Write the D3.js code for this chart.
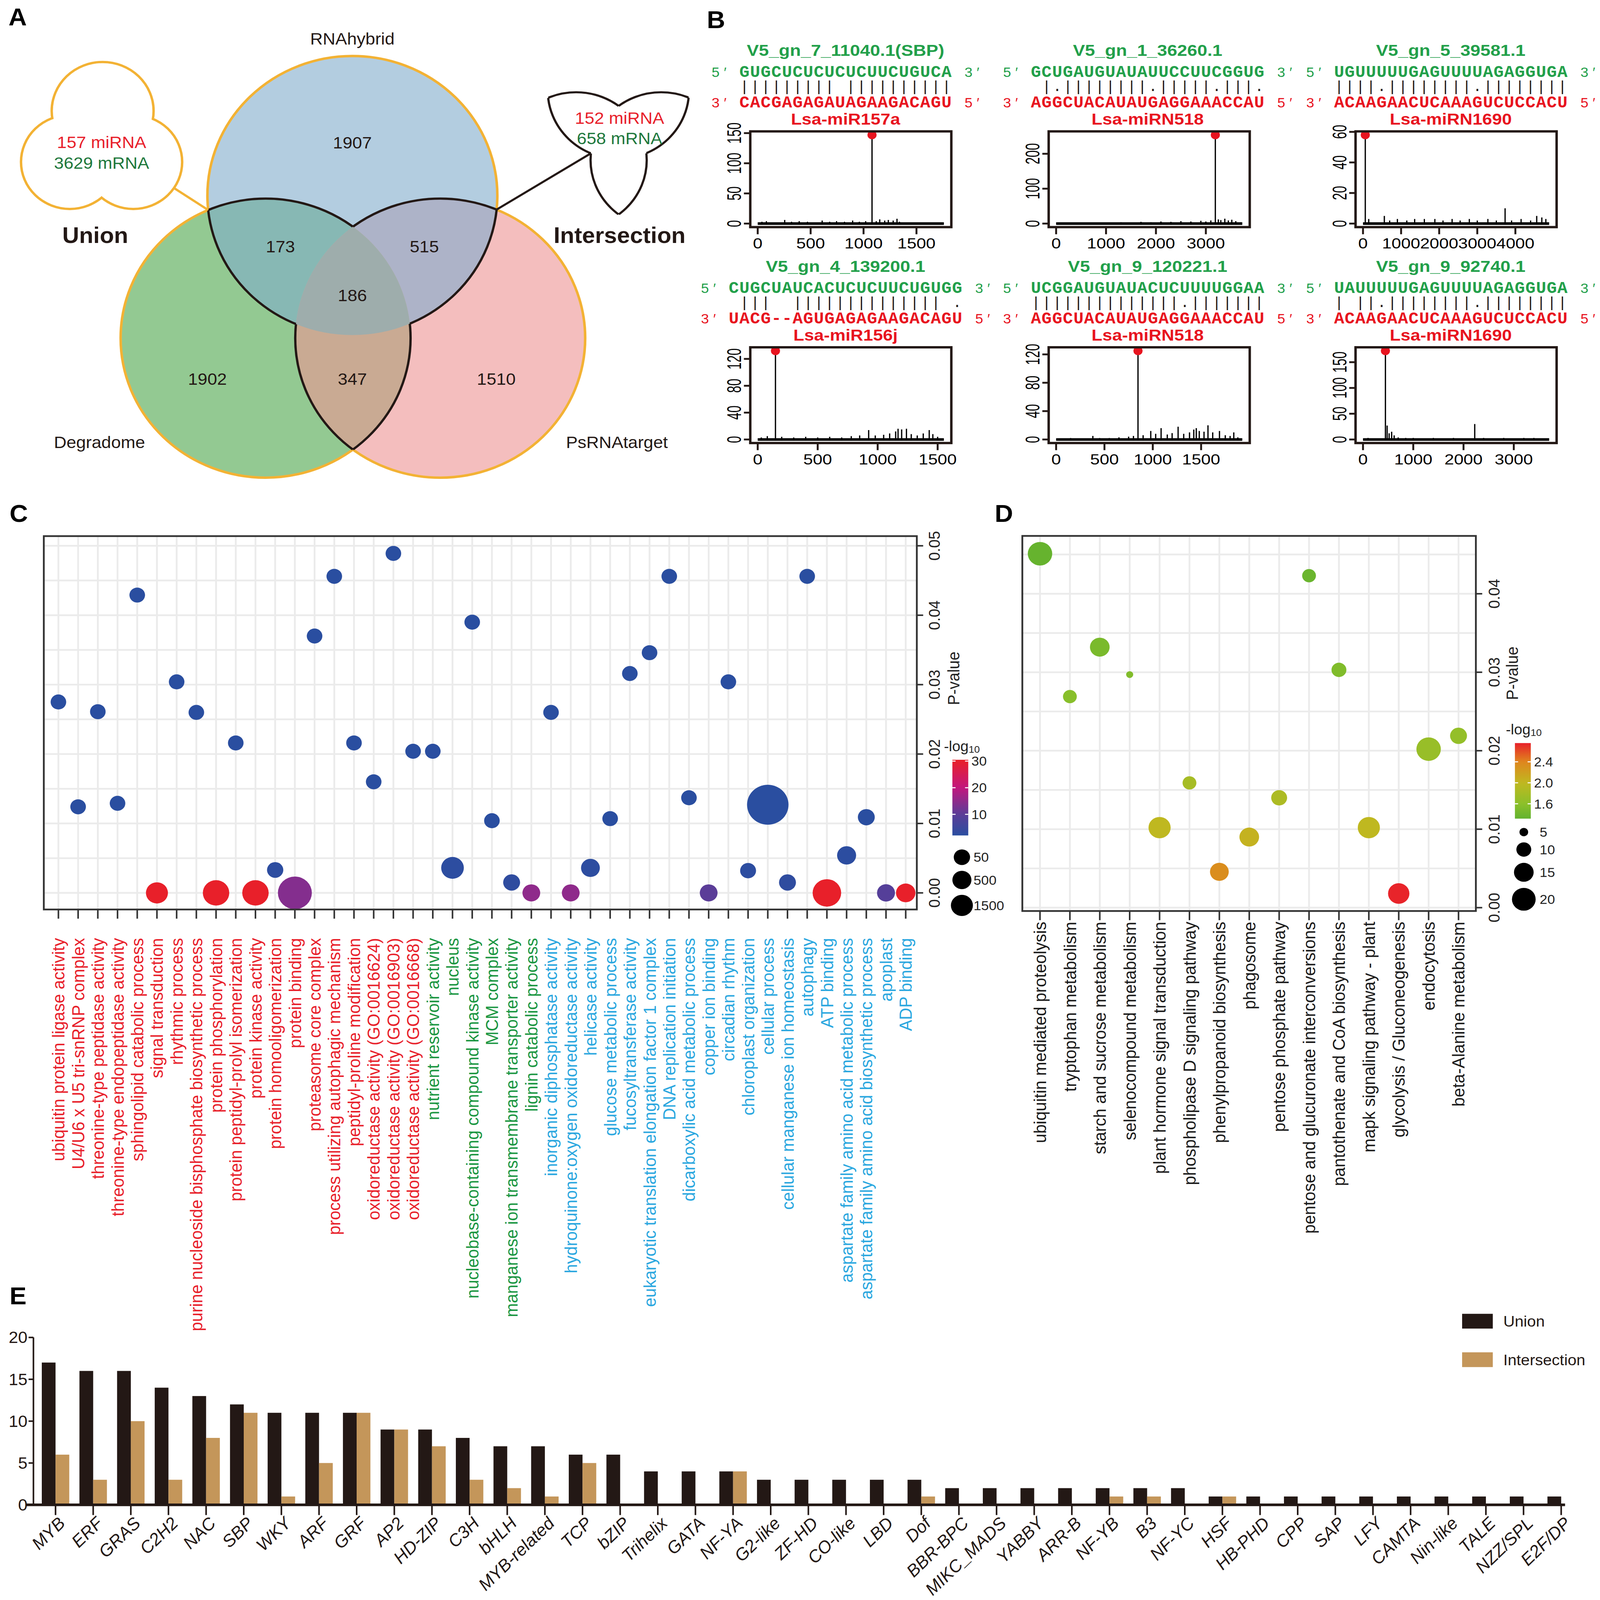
<!DOCTYPE html>
<html>
<head>
<meta charset="utf-8">
<title>miRNA targets</title>
<script src="https://cdn.jsdelivr.net/npm/d3@7"></script>
<style>
  html, body { margin: 0; padding: 0; background: #fff; overflow: hidden; }
  svg { display: block; width: 100vw; height: 100vh; }
</style>
</head>
<body>
<div id="fig"></div>
<script>
// ====================== data ======================
// A: Venn (H = RNAhybrid, D = Degradome, P = PsRNAtarget)
const vennSets = ["RNAhybrid", "Degradome", "PsRNAtarget"];
const vennRegions = ["H", "D", "P", "HD", "HP", "DP", "HDP"];
const vennCounts = [1907, 1902, 1510, 173, 515, 347, 186];
const unionText = ["157 miRNA", "3629 mRNA"];
const interText = ["152 miRNA", "658 mRNA"];

// B: degradome target plots
const bTitles = ["V5_gn_7_11040.1(SBP)", "V5_gn_1_36260.1", "V5_gn_5_39581.1",
                 "V5_gn_4_139200.1", "V5_gn_9_120221.1", "V5_gn_9_92740.1"];
const bMirnas = ["Lsa-miR157a", "Lsa-miRN518", "Lsa-miRN1690", "Lsa-miR156j", "Lsa-miRN518", "Lsa-miRN1690"];
const bTargetSeq = ["GUGCUCUCUCUCUUCUGUCA", "GCUGAUGUAUAUUCCUUCGGUG", "UGUUUUUGAGUUUUAGAGGUGA",
                    "CUGCUAUCACUCUCUUCUGUGG", "UCGGAUGUAUACUCUUUUGGAA", "UAUUUUUGAGUUUUAGAGGUGA"];
const bPairing = ["||||||||| ||||||||||", " |.||||||||.|||||.|||.", "||||.||||||||.||||||||",
                  " |||  |||||||||||||| .", "||||||||||||||.|||||||", "| ||.||||||||.||||||||"];
const bMirnaSeq = ["CACGAGAGAUAGAAGACAGU", "AGGCUACAUAUGAGGAAACCAU", "ACAAGAACUCAAAGUCUCCACU",
                   "UACG--AGUGAGAGAAGACAGU", "AGGCUACAUAUGAGGAAACCAU", "ACAAGAACUCAAAGUCUCCACU"];
const bLength = [1759, 3730, 4887, 1552, 1926, 3704];
const bPeakPos = [1080, 3190, 60, 148, 847, 446];
const bPeakVal = [147, 254, 58, 132, 125, 172];
const bYTicks = [[0, 50, 100, 150], [0, 100, 200], [0, 20, 40, 60], [0, 40, 80, 120], [0, 40, 80, 120], [0, 50, 100, 150]];
const bXTicks = [[0, 500, 1000, 1500], [0, 1000, 2000, 3000], [0, 1000, 2000, 3000, 4000],
                 [0, 500, 1000, 1500], [0, 500, 1000, 1500], [0, 1000, 2000, 3000]];
const bSpikes = [
  [[40,3],[82,4],[150,2],[255,6],[320,3],[392,4],[470,3],[530,2],[609,5],[680,3],[745,4],[820,3],[897,5],[960,3],[1020,4],[1120,4],[1153,7],[1200,5],[1234,6],[1280,5],[1316,8],[1340,3],[1400,2],[1500,1],[1600,1],[1700,1]],
  [[100,2],[300,3],[500,2],[700,3],[900,2],[1100,3],[1300,4],[1500,3],[1700,5],[1900,4],[2100,6],[2300,5],[2500,7],[2700,6],[2900,8],[3000,6],[3100,9],[3250,12],[3300,10],[3380,14],[3450,9],[3520,11],[3600,7],[3700,4]],
  [[150,3],[560,5],[700,2],[903,3],[1150,2],[1356,3],[1611,3],[1886,3],[2100,2],[2339,3],[2550,2],[2791,3],[3000,2],[3278,3],[3500,2],[3730,10],[3900,2],[4150,3],[4400,2],[4560,5],[4694,4],[4800,3]],
  [[30,3],[80,5],[200,4],[300,3],[400,4],[500,3],[600,4],[700,3],[780,5],[850,6],[925,14],[980,6],[1050,7],[1100,9],[1150,12],[1170,16],[1200,15],[1240,16],[1280,8],[1330,6],[1380,9],[1430,14],[1460,8],[1500,4]],
  [[50,1],[150,2],[250,1],[380,5],[450,2],[550,2],[650,3],[750,4],[800,5],[900,6],[979,12],[1030,8],[1086,16],[1150,7],[1200,9],[1262,18],[1320,8],[1380,10],[1424,14],[1450,16],[1481,12],[1530,11],[1571,20],[1620,10],[1690,12],[1750,6],[1800,5],[1838,10],[1880,3]],
  [[100,3],[250,2],[480,27],[520,12],[570,15],[620,8],[700,4],[850,3],[1000,3],[1200,2],[1400,3],[1600,2],[1800,3],[2000,2],[2223,30],[2400,3],[2600,2],[2800,3],[3000,2],[3200,3],[3400,3],[3600,2]]
];

// C: GO enrichment
const goTerms = [
  "ubiquitin protein ligase activity", "U4/U6 x U5 tri-snRNP complex", "threonine-type peptidase activity",
  "threonine-type endopeptidase activity", "sphingolipid catabolic process", "signal transduction",
  "rhythmic process", "purine nucleoside bisphosphate biosynthetic process", "protein phosphorylation",
  "protein peptidyl-prolyl isomerization", "protein kinase activity", "protein homooligomerization",
  "protein binding", "proteasome core complex", "process utilizing autophagic mechanism",
  "peptidyl-proline modification", "oxidoreductase activity (GO:0016624)", "oxidoreductase activity (GO:0016903)",
  "oxidoreductase activity (GO:0016668)", "nutrient reservoir activity", "nucleus",
  "nucleobase-containing compound kinase activity", "MCM complex", "manganese ion transmembrane transporter activity",
  "lignin catabolic process", "inorganic diphosphatase activity", "hydroquinone:oxygen oxidoreductase activity",
  "helicase activity", "glucose metabolic process", "fucosyltransferase activity",
  "eukaryotic translation elongation factor 1 complex", "DNA replication initiation", "dicarboxylic acid metabolic process",
  "copper ion binding", "circadian rhythm", "chloroplast organization", "cellular process",
  "cellular manganese ion homeostasis", "autophagy", "ATP binding",
  "aspartate family amino acid metabolic process", "aspartate family amino acid biosynthetic process", "apoplast", "ADP binding"
];
const goGroup = "RRRRRRRRRRRRRRRRRRRGGGGGGBBBBBBBBBBBBBBBBBBB".split("");
const goP = [0.0275, 0.0124, 0.0261, 0.0129, 0.0429, 1e-30, 0.0304, 0.026, 1e-30, 0.0216, 1e-30, 0.0033,
             1e-14, 0.037, 0.0456, 0.0216, 0.016, 0.0489, 0.0204, 0.0204, 0.0036, 0.039, 0.0104, 0.0015,
             1e-15, 0.026, 1e-15, 0.0036, 0.0107, 0.0316, 0.0346, 0.0456, 0.0137, 1e-10, 0.0304, 0.0032,
             0.0127, 0.0015, 0.0456, 1e-30, 0.0054, 0.0109, 1e-9, 1e-30];
const goCount = [10, 10, 10, 10, 10, 1500, 10, 10, 4000, 10, 4000, 50, 11000, 10, 10, 10, 10, 10, 10, 10,
                 1800, 10, 10, 110, 230, 10, 230, 450, 10, 10, 10, 10, 10, 230, 10, 25, 21500, 110, 10,
                 5600, 500, 110, 270, 600];
const goColorTicks = [10, 20, 30];
const goSizeKeys = [50, 500, 1500];

// D: KEGG enrichment
const keggTerms = ["ubiquitin mediated proteolysis", "tryptophan metabolism", "starch and sucrose metabolism",
  "selenocompound metabolism", "plant hormone signal transduction", "phospholipase D signaling pathway",
  "phenylpropanoid biosynthesis", "phagosome", "pentose phosphate pathway", "pentose and glucuronate interconversions",
  "pantothenate and CoA biosynthesis", "mapk signaling pathway - plant", "glycolysis / Gluconeogenesis",
  "endocytosis", "beta-Alanine metabolism"];
const keggP = [0.0451, 0.0269, 0.0332, 0.0297, 0.0102, 0.0159, 0.00457, 0.009, 0.014, 0.0423, 0.0303, 0.0102, 0.0018, 0.0202, 0.0219];
const keggCount = [21, 9, 15, 4, 18, 9, 14, 15, 11, 9, 10, 18, 17, 21, 12];
const keggColorTicks = [1.6, 2.0, 2.4];
const keggSizeKeys = [5, 10, 15, 20];

// E: TF families
const tfFamilies = ["MYB", "ERF", "GRAS", "C2H2", "NAC", "SBP", "WKY", "ARF", "GRF", "AP2", "HD-ZIP", "C3H", "bHLH",
  "MYB-related", "TCP", "bZIP", "Trihelix", "GATA", "NF-YA", "G2-like", "ZF-HD", "CO-like", "LBD", "Dof", "BBR-BPC",
  "MIKC_MADS", "YABBY", "ARR-B", "NF-YB", "B3", "NF-YC", "HSF", "HB-PHD", "CPP", "SAP", "LFY", "CAMTA", "Nin-like",
  "TALE", "NZZ/SPL", "E2F/DP"];
const tfUnion = [17, 16, 16, 14, 13, 12, 11, 11, 11, 9, 9, 8, 7, 7, 6, 6, 4, 4, 4, 3, 3, 3, 3, 3, 2, 2, 2, 2, 2, 2, 2,
  1, 1, 1, 1, 1, 1, 1, 1, 1, 1];
const tfInter = [6, 3, 10, 3, 8, 11, 1, 5, 11, 9, 7, 3, 2, 1, 5, 0, 0, 0, 4, 0, 0, 0, 0, 1, 0, 0, 0, 0, 1, 1, 0,
  1, 0, 0, 0, 0, 0, 0, 0, 0, 0];
const tfSeries = ["Union", "Intersection"];
const eYTicks = [0, 5, 10, 15, 20];

// ====================== setup ======================
const W = 1512, H = 1571;
const FONT = "'Liberation Sans', Arial, Helvetica, sans-serif";
const MONO = "'Liberation Mono', 'Courier New', monospace";
const INK = "#231815";
// the drawing is laid out on a 1512 x 1571 grid and stretched onto the window
const svg = d3.select("#fig").append("svg")
  .attr("viewBox", `0 0 ${W} ${H}`)
  .attr("preserveAspectRatio", "none")
  .attr("font-family", FONT);
svg.append("rect").attr("width", W).attr("height", H).attr("fill", "#fff");
const defs = svg.append("defs");

function panelLetter(t, x, y) {
  svg.append("text").attr("x", x).attr("y", y).attr("font-size", 24).attr("font-weight", "bold")
    .attr("fill", "#000").text(t);
}

// ====================== A ======================
panelLetter("A", 8, 25);
const gA = svg.append("g");
const vennR = 137;
const vennCircles = [
  { key: "H", cx: 333, cy: 192 },
  { key: "D", cx: 251, cy: 332 },
  { key: "P", cx: 416, cy: 332 }
];
const vennFill = { H: "#b3cde0", D: "#93c992", P: "#f4bebe", HD: "#87b8b4", HP: "#adb3c8", DP: "#c9aa93", HDP: "#9eadac" };
const vennLabelAt = { H: [333, 140], D: [196, 372], P: [469, 372], HD: [265, 242], HP: [401, 242], DP: [333, 372], HDP: [333, 290] };
const vennSetLabelAt = [[333, 38], [94, 434], [583, 434]];
const ORANGE = "#f3b234";

function circleCross(a, b) {
  const dx = b.cx - a.cx, dy = b.cy - a.cy, d = Math.hypot(dx, dy);
  const h = Math.sqrt(vennR * vennR - d * d / 4), mx = (a.cx + b.cx) / 2, my = (a.cy + b.cy) / 2;
  return [[mx - h * dy / d, my + h * dx / d], [mx + h * dy / d, my - h * dx / d]];
}

vennCircles.forEach(c => {
  defs.append("clipPath").attr("id", "clip-" + c.key)
    .append("circle").attr("cx", c.cx).attr("cy", c.cy).attr("r", vennR);
});
function addMask(id, bg) {
  const m = defs.append("mask").attr("id", id).attr("maskUnits", "userSpaceOnUse")
    .attr("x", -100).attr("y", -100).attr("width", 900).attr("height", 800);
  m.append("rect").attr("x", -100).attr("y", -100).attr("width", 900).attr("height", 800).attr("fill", bg);
  return m;
}
vennCircles.forEach((c, i) => {
  const others = vennCircles.filter((_, j) => j !== i);
  const mo = addMask("out-" + c.key, "#fff");
  others.forEach(o => mo.append("circle").attr("cx", o.cx).attr("cy", o.cy).attr("r", vennR).attr("fill", "#000"));
  const mp = addMask("pair-" + c.key, "#000");
  others.forEach(o => mp.append("circle").attr("cx", o.cx).attr("cy", o.cy).attr("r", vennR).attr("fill", "#fff"));
  mp.append("circle").attr("cx", others[1].cx).attr("cy", others[1].cy).attr("r", vennR)
    .attr("clip-path", `url(#clip-${others[0].key})`).attr("fill", "#000");
});

// region fills
vennCircles.forEach(c => gA.append("circle").attr("cx", c.cx).attr("cy", c.cy).attr("r", vennR).attr("fill", vennFill[c.key]));
[[0, 1], [0, 2], [1, 2]].forEach(([i, j]) => {
  const a = vennCircles[i], b = vennCircles[j];
  gA.append("circle").attr("cx", b.cx).attr("cy", b.cy).attr("r", vennR)
    .attr("clip-path", `url(#clip-${a.key})`).attr("fill", vennFill[a.key + b.key]);
});
gA.append("g").attr("clip-path", "url(#clip-H)")
  .append("circle").attr("cx", vennCircles[1].cx).attr("cy", vennCircles[1].cy).attr("r", vennR)
  .attr("clip-path", "url(#clip-P)").attr("fill", vennFill.HDP);

// outlines: orange union edge, black edge of the shared area
vennCircles.forEach(c => gA.append("circle").attr("cx", c.cx).attr("cy", c.cy).attr("r", vennR)
  .attr("fill", "none").attr("stroke", ORANGE).attr("stroke-width", 2.4).attr("mask", `url(#out-${c.key})`));
vennCircles.forEach(c => gA.append("circle").attr("cx", c.cx).attr("cy", c.cy).attr("r", vennR)
  .attr("fill", "none").attr("stroke", INK).attr("stroke-width", 2.2).attr("mask", `url(#pair-${c.key})`));

// numbers
vennRegions.forEach((k, i) => {
  gA.append("text").attr("x", vennLabelAt[k][0]).attr("y", vennLabelAt[k][1]).attr("dy", "0.35em")
    .attr("text-anchor", "middle").attr("font-size", 16.5).attr("fill", INK).text(vennCounts[i]);
});
vennSets.forEach((s, i) => {
  gA.append("text").attr("x", vennSetLabelAt[i][0]).attr("y", vennSetLabelAt[i][1]).attr("dy", "0.35em")
    .attr("text-anchor", "middle").attr("font-size", 16.5).attr("fill", INK).text(s);
});

// union callout (cloud)
const leftCorner = circleCross(vennCircles[0], vennCircles[1]).sort((a, b) => a[0] - b[0])[0];
const hpCross = circleCross(vennCircles[0], vennCircles[2]).sort((a, b) => a[0] - b[0]);
const rightCorner = hpCross[1];
const cloudLobes = [{ cx: 97, cy: 109, r: 47 }, { cx: 66, cy: 159, r: 45 }, { cx: 126, cy: 159, r: 45 }];
const lobe = cloudLobes[2];
const ang = Math.atan2(leftCorner[1] - lobe.cy, leftCorner[0] - lobe.cx);
gA.append("line").attr("x1", lobe.cx + lobe.r * Math.cos(ang)).attr("y1", lobe.cy + lobe.r * Math.sin(ang))
  .attr("x2", leftCorner[0]).attr("y2", leftCorner[1]).attr("stroke", ORANGE).attr("stroke-width", 2.2);
cloudLobes.forEach(l => gA.append("circle").attr("cx", l.cx).attr("cy", l.cy).attr("r", l.r)
  .attr("fill", "none").attr("stroke", ORANGE).attr("stroke-width", 4.6));
cloudLobes.forEach(l => gA.append("circle").attr("cx", l.cx).attr("cy", l.cy).attr("r", l.r).attr("fill", "#fff"));
gA.append("text").attr("x", 96).attr("y", 145.5).attr("text-anchor", "middle").attr("font-size", 16.5)
  .attr("fill", "#e8202a").text(unionText[0]);
gA.append("text").attr("x", 96).attr("y", 165.5).attr("text-anchor", "middle").attr("font-size", 16.5)
  .attr("fill", "#1e783c").text(unionText[1]);
gA.append("text").attr("x", 90).attr("y", 238.5).attr("text-anchor", "middle").attr("font-size", 22)
  .attr("font-weight", "bold").attr("fill", INK).text("Union");

// intersection callout (small copy of the shared-area outline)
const treS = 0.487, treT = [422.2, -4.4];
const tre = gA.append("g").attr("transform", `translate(${treT[0]},${treT[1]}) scale(${treS})`);
vennCircles.forEach(c => tre.append("circle").attr("cx", c.cx).attr("cy", c.cy).attr("r", vennR)
  .attr("fill", "none").attr("stroke", INK).attr("stroke-width", 2.1 / treS).attr("mask", `url(#pair-${c.key})`));
gA.append("line").attr("x1", rightCorner[0]).attr("y1", rightCorner[1])
  .attr("x2", treT[0] + treS * hpCross[0][0]).attr("y2", treT[1] + treS * hpCross[0][1])
  .attr("stroke", INK).attr("stroke-width", 2);
gA.append("text").attr("x", 585.5).attr("y", 121.5).attr("text-anchor", "middle").attr("font-size", 16.5)
  .attr("fill", "#e8202a").text(interText[0]);
gA.append("text").attr("x", 585.5).attr("y", 141.5).attr("text-anchor", "middle").attr("font-size", 16.5)
  .attr("fill", "#1e783c").text(interText[1]);
gA.append("text").attr("x", 585.5).attr("y", 238.5).attr("text-anchor", "middle").attr("font-size", 22)
  .attr("font-weight", "bold").attr("fill", INK).text("Intersection");

// ====================== B ======================
panelLetter("B", 668, 27.5);
const GREEN_B = "#22a04a", RED_B = "#e8141f";
const bColX = [799, 1084.5, 1371];
const bBoxX = [709, 991, 1281];
const bW = 190, bH = 94, bRowStep = 212, charW = 10.05;

function sText(g, x, y, t, o) {
  return g.append("text")
    .attr("transform", `translate(${x},${y}) scale(${o.sx || 1},1)${o.rot ? " rotate(" + o.rot + ")" : ""}`)
    .attr("dy", o.dy || null)
    .attr("text-anchor", o.anchor || "middle").attr("font-size", o.size)
    .attr("font-weight", o.weight || "normal").attr("fill", o.fill || "#000").text(t);
}
// target / pairing / miRNA rows as one monospaced block, letter-spaced onto the character grid
function duplexText(g, x0, oy, rows) {
  const t = g.append("text").attr("font-family", MONO);
  rows.forEach(r => {
    const adv = 0.6 * r.size;
    t.append("tspan").attr("x", x0 + (charW - adv) / 2).attr("y", r.y + oy)
      .attr("font-size", r.size).attr("font-weight", r.weight).attr("letter-spacing", charW - adv)
      .attr("fill", r.fill).text(r.s.replace(/ /g, "\u00a0"));
  });
}
function primeLabel(g, x, y, digit, fill) {
  g.append("text").attr("x", x).attr("y", y).attr("text-anchor", "middle").attr("font-size", 13.5).attr("fill", fill)
    .text(digit).append("tspan").attr("dx", 4).text("\u2032");
}

bTitles.forEach((title, i) => {
  const col = i % 3, row = Math.floor(i / 3), oy = row * bRowStep, cxm = bColX[col];
  const g = svg.append("g");
  sText(g, cxm, 55 + oy, title, { size: 15.5, weight: "bold", fill: GREEN_B, sx: 1.1 });

  const n = bTargetSeq[i].length, x0 = cxm - n * charW / 2, x1 = x0 + n * charW;
  duplexText(g, x0, oy, [
    { s: bTargetSeq[i], y: 75.5, size: 16, weight: "bold", fill: GREEN_B },
    { s: bPairing[i], y: 89.5, size: 14.5, weight: "normal", fill: INK },
    { s: bMirnaSeq[i], y: 105.5, size: 16, weight: "bold", fill: RED_B }
  ]);
  primeLabel(g, x0 - 19, 75.5 + oy, "5", GREEN_B);
  primeLabel(g, x1 + 19, 75.5 + oy, "3", GREEN_B);
  primeLabel(g, x0 - 19, 105.5 + oy, "3", RED_B);
  primeLabel(g, x1 + 19, 105.5 + oy, "5", RED_B);
  sText(g, cxm, 122.5 + oy, bMirnas[i], { size: 15.5, weight: "bold", fill: RED_B, sx: 1.08 });

  // degradome signal plot
  const bx = bBoxX[col], by = 129 + oy, L = bLength[i], pk = bPeakVal[i];
  const xs = d3.scaleLinear().domain([-0.04 * L, 1.04 * L]).range([bx, bx + bW]);
  const ys = d3.scaleLinear().domain([-0.04 * pk, 1.04 * pk]).range([by + bH, by]);
  g.append("line").attr("x1", xs(0)).attr("x2", xs(L)).attr("y1", ys(0)).attr("y2", ys(0))
    .attr("stroke", "#000").attr("stroke-width", 2.6);
  g.selectAll(null).data(bSpikes[i]).join("line")
    .attr("x1", d => xs(d[0])).attr("x2", d => xs(d[0])).attr("y1", ys(0)).attr("y2", d => ys(d[1]))
    .attr("stroke", "#000").attr("stroke-width", 1.2);
  g.append("line").attr("x1", xs(bPeakPos[i])).attr("x2", xs(bPeakPos[i])).attr("y1", ys(0)).attr("y2", ys(pk))
    .attr("stroke", "#000").attr("stroke-width", 1.2);
  g.append("circle").attr("cx", xs(bPeakPos[i])).attr("cy", ys(pk)).attr("r", 4.3).attr("fill", RED_B);
  g.append("rect").attr("x", bx).attr("y", by).attr("width", bW).attr("height", bH)
    .attr("fill", "none").attr("stroke", INK).attr("stroke-width", 2.3);
  bYTicks[i].forEach(t => {
    g.append("line").attr("x1", bx - 6).attr("x2", bx).attr("y1", ys(t)).attr("y2", ys(t)).attr("stroke", INK).attr("stroke-width", 1.8);
    sText(g, bx - 15, ys(t), t, { size: 12.5, sx: 1.45, rot: -90, dy: "0.35em" });
  });
  bXTicks[i].forEach(t => {
    g.append("line").attr("x1", xs(t)).attr("x2", xs(t)).attr("y1", by + bH).attr("y2", by + bH + 7).attr("stroke", INK).attr("stroke-width", 1.8);
    sText(g, xs(t), by + bH + 21, t, { size: 14.5, sx: 1.12 });
  });
});

// ====================== C & D shared helpers ======================
function colorBar(g, id, scale, domain, x, y0, y1, w, ticks, fmt) {
  const grad = defs.append("linearGradient").attr("id", id).attr("x1", 0).attr("y1", 1).attr("x2", 0).attr("y2", 0);
  d3.range(0, 1.0001, 0.05).forEach(t => grad.append("stop").attr("offset", t)
    .attr("stop-color", scale(domain[0] + t * (domain[1] - domain[0]))));
  g.append("rect").attr("x", x).attr("y", y0).attr("width", w).attr("height", y1 - y0).attr("fill", `url(#${id})`);
  const ly = d3.scaleLinear().domain(domain).range([y1, y0]);
  ticks.forEach(t => {
    g.append("line").attr("x1", x).attr("x2", x + 3).attr("y1", ly(t)).attr("y2", ly(t)).attr("stroke", "#fff").attr("stroke-width", 1);
    g.append("line").attr("x1", x + w - 3).attr("x2", x + w).attr("y1", ly(t)).attr("y2", ly(t)).attr("stroke", "#fff").attr("stroke-width", 1);
    g.append("text").attr("x", x + w + 3).attr("y", ly(t)).attr("dy", "0.35em").attr("font-size", 13)
      .attr("fill", "#222").text(fmt(t));
  });
}
function logTitle(g, x, y) {
  const t = g.append("text").attr("x", x).attr("y", y).attr("font-size", 14).attr("fill", "#222");
  t.append("tspan").text("-log");
  t.append("tspan").attr("font-size", 9.5).attr("dy", 1.5).text("10");
}
function sizeKeys(g, keys, size, x, y0, gap, labelX) {
  let y = y0;
  keys.forEach((k, i) => {
    if (i > 0) y += size(keys[i - 1]) + size(k) + gap;
    g.append("circle").attr("cx", x).attr("cy", y).attr("r", size(k)).attr("fill", "#000");
    g.append("text").attr("x", labelX).attr("y", y).attr("dy", "0.35em").attr("font-size", 13).attr("fill", "#222").text(k);
  });
}
function bubbleFrame(g, box, xs, ys, terms, gridY, tickY, tickX, labelEndY, labelColor, titleX, titleY) {
  g.append("rect").attr("x", box.x0).attr("y", box.y0).attr("width", box.x1 - box.x0).attr("height", box.y1 - box.y0).attr("fill", "#fff");
  g.selectAll(null).data(terms).join("line")
    .attr("x1", d => xs(d)).attr("x2", d => xs(d)).attr("y1", box.y0).attr("y2", box.y1)
    .attr("stroke", "#ebebeb").attr("stroke-width", 1.7);
  g.selectAll(null).data(gridY).join("line")
    .attr("x1", box.x0).attr("x2", box.x1).attr("y1", d => ys(d)).attr("y2", d => ys(d))
    .attr("stroke", "#ebebeb").attr("stroke-width", 1.7);
  // x ticks + labels
  g.selectAll(null).data(terms).join("line")
    .attr("x1", d => xs(d)).attr("x2", d => xs(d)).attr("y1", box.y1).attr("y2", box.y1 + 9)
    .attr("stroke", "#333").attr("stroke-width", 1.5);
  g.selectAll(null).data(terms).join("text")
    .attr("transform", d => `translate(${xs(d)},${labelEndY}) rotate(-90)`)
    .attr("dy", "0.35em").attr("text-anchor", "end").attr("font-size", 16.5)
    .attr("fill", (d, i) => labelColor(i)).text(d => d);
  // right axis
  tickY.forEach(t => {
    g.append("line").attr("x1", box.x1).attr("x2", box.x1 + 6).attr("y1", ys(t)).attr("y2", ys(t)).attr("stroke", "#333").attr("stroke-width", 1.5);
    g.append("text").attr("transform", `translate(${tickX},${ys(t)}) rotate(-90)`).attr("dy", "0.35em")
      .attr("text-anchor", "middle").attr("font-size", 15).attr("fill", "#222").text(d3.format(".2f")(t));
  });
  g.append("text").attr("transform", `translate(${titleX},${titleY}) rotate(-90)`).attr("dy", "0.35em")
    .attr("text-anchor", "middle").attr("font-size", 15.5).attr("fill", "#222").text("P-value");
}

// ====================== C ======================
panelLetter("C", 9, 512.5);
const gC = svg.append("g");
const cBox = { x0: 41.4, x1: 866.4, y0: 526.4, y1: 893 };
const cX = d3.scalePoint().domain(goTerms).range([55.2, 855.9]);
const cY = d3.scaleLinear().domain([0, 0.05]).range([876.7, 535.9]);
const cColor = d3.scaleLinear().domain([2, 10, 20, 30]).range(["#2a4ea0", "#5b3d98", "#c2177e", "#e8202a"]).clamp(true);
const cSize = d3.scaleSqrt().domain([0, 21500]).range([7.1, 19.6]);
const goGroupColor = { R: "#e8202a", G: "#1a9641", B: "#2aa7df" };
bubbleFrame(gC, cBox, cX, cY, goTerms, d3.range(0, cY.invert(cBox.y0), 0.005), [0, 0.01, 0.02, 0.03, 0.04, 0.05],
  883, 921, i => goGroupColor[goGroup[i]], 901, 666);
gC.selectAll(null).data(goTerms).join("circle")
  .attr("cx", d => cX(d)).attr("cy", (d, i) => cY(goP[i])).attr("r", (d, i) => cSize(goCount[i]))
  .attr("fill", (d, i) => cColor(-Math.log10(goP[i])));
gC.append("rect").attr("x", cBox.x0).attr("y", cBox.y0).attr("width", cBox.x1 - cBox.x0).attr("height", cBox.y1 - cBox.y0)
  .attr("fill", "none").attr("stroke", "#333").attr("stroke-width", 1.7);
logTitle(gC, 892, 737.5);
colorBar(gC, "gradC", cColor, [2.07, 30.5], 900, 746, 820.3, 15, goColorTicks, d3.format("d"));
sizeKeys(gC, goSizeKeys, cSize, 909, 841.7, 5.6, 920);

// ====================== D ======================
panelLetter("D", 940, 512.5);
const gD = svg.append("g");
const dBox = { x0: 966.1, x1: 1394.7, y0: 526.2, y1: 894.5 };
const dX = d3.scalePoint().domain(keggTerms).range([982.8, 1378.3]);
const dY = d3.scaleLinear().domain([0, 0.04]).range([891.2, 583]);
const dColor = d3.scaleLinear().domain([1.317, 1.6, 2.0, 2.4, 2.757])
  .range(["#62b22f", "#8cc02a", "#c0b820", "#df861d", "#e8202a"]).clamp(true);
const dSize = d3.scaleSqrt().domain([3, 20]).range([2.5, 11.2]);
bubbleFrame(gD, dBox, dX, dY, keggTerms, d3.range(0, dY.invert(dBox.y0), 0.005), [0, 0.01, 0.02, 0.03, 0.04],
  1412, 905, () => "#1a1a1a", 1429, 661);
gD.selectAll(null).data(keggTerms).join("circle")
  .attr("cx", d => dX(d)).attr("cy", (d, i) => dY(keggP[i])).attr("r", (d, i) => dSize(keggCount[i]))
  .attr("fill", (d, i) => dColor(-Math.log10(keggP[i])));
gD.append("rect").attr("x", dBox.x0).attr("y", dBox.y0).attr("width", dBox.x1 - dBox.x0).attr("height", dBox.y1 - dBox.y0)
  .attr("fill", "none").attr("stroke", "#333").attr("stroke-width", 1.7);
logTitle(gD, 1423, 721);
colorBar(gD, "gradD", dColor, [1.317, 2.757], 1431.6, 729.6, 803.8, 15, keggColorTicks, d3.format(".1f"));
sizeKeys(gD, keggSizeKeys, dSize, 1440, 817, 6, 1455);

// ====================== E ======================
panelLetter("E", 9, 1280.5);
const gE = svg.append("g");
const eX = d3.scaleBand().domain(tfFamilies).range([34.7, 1493.1]).paddingInner(0.27).paddingOuter(0.135);
const eSub = d3.scaleBand().domain(tfSeries).range([0, eX.bandwidth()]);
const eY = d3.scaleLinear().domain([0, 20]).range([1477.6, 1313.2]);
const eColor = { Union: INK, Intersection: "#c4965a" };
const eVals = { Union: tfUnion, Intersection: tfInter };
tfSeries.forEach(s => {
  gE.selectAll(null).data(tfFamilies).join("rect")
    .attr("x", d => eX(d) + eSub(s)).attr("width", eSub.bandwidth())
    .attr("y", (d, i) => eY(eVals[s][i])).attr("height", (d, i) => eY(0) - eY(eVals[s][i]))
    .attr("fill", eColor[s]);
});
gE.append("line").attr("x1", 24.3).attr("x2", 1479).attr("y1", eY(0)).attr("y2", eY(0)).attr("stroke", INK).attr("stroke-width", 2.6);
gE.append("line").attr("x1", 31.6).attr("x2", 31.6).attr("y1", eY(0)).attr("y2", eY(20)).attr("stroke", INK).attr("stroke-width", 1.5);
eYTicks.forEach(t => {
  gE.append("line").attr("x1", 27).attr("x2", 31.6).attr("y1", eY(t)).attr("y2", eY(t)).attr("stroke", INK).attr("stroke-width", 1.5);
  gE.append("text").attr("x", 26).attr("y", eY(t)).attr("dy", "0.35em").attr("text-anchor", "end")
    .attr("font-size", 16).attr("fill", INK).text(t);
});
gE.selectAll(null).data(tfFamilies).join("line")
  .attr("x1", d => eX(d) + eX.bandwidth() / 2).attr("x2", d => eX(d) + eX.bandwidth() / 2)
  .attr("y1", eY(0)).attr("y2", eY(0) + 10).attr("stroke", INK).attr("stroke-width", 1.5);
gE.selectAll(null).data(tfFamilies).join("text")
  .attr("transform", d => `translate(${eX(d) + eX.bandwidth() / 2 + 6},${eY(0) + 15}) rotate(-45)`)
  .attr("dy", "0.35em").attr("text-anchor", "end").attr("font-size", 16.8).attr("font-style", "italic")
  .attr("fill", INK).text(d => d);
tfSeries.forEach((s, i) => {
  gE.append("rect").attr("x", 1381.7).attr("y", 1290 + i * 37.8).attr("width", 29).attr("height", 14.5).attr("fill", eColor[s]);
  gE.append("text").attr("x", 1420.6).attr("y", 1297.3 + i * 37.8).attr("dy", "0.35em").attr("font-size", 15)
    .attr("fill", INK).text(s);
});
</script>
</body>
</html>
